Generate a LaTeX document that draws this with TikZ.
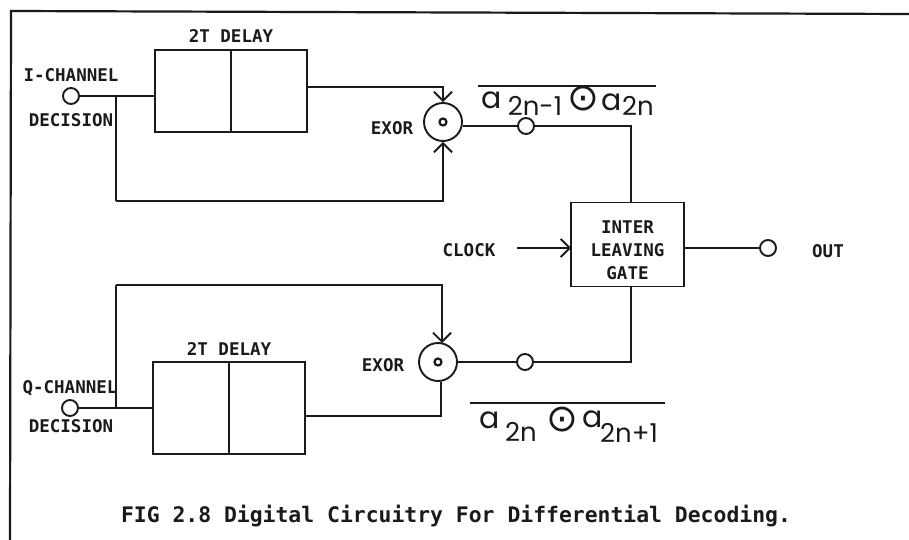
\documentclass[tikz,border=0pt]{standalone}
\usepackage{fontspec}
\setmainfont{DejaVu Sans Mono}
\newfontfamily\symfont{DejaVu Sans}
\newfontfamily\letterfont{Poppins}
\usepackage{tikz}
\usetikzlibrary{arrows.meta,positioning,calc}
\definecolor{ink}{HTML}{1A1A1A}
\tikzset{
  wire/.style={draw=ink,line width=1.9pt},
  arrow/.style={wire,-{Straight Barb[length=9pt,width=18pt,line width=1.9pt]}},
  delaybox/.style={draw=ink,line width=1.9pt,minimum width=152pt,minimum height=84pt,inner sep=0pt},
  gatebox/.style={draw=ink,line width=1.9pt,minimum width=113pt,minimum height=84pt,inner sep=0pt},
  gatetext/.style={align=center,inner sep=0pt,font=\fontsize{17.5}{23}\selectfont\bfseries,text=ink},
  terminal/.style={circle,draw=ink,line width=1.9pt,fill=white,minimum size=16pt,inner sep=0pt},
  exor/.style={circle,draw=ink,line width=1.9pt,minimum size=38pt,inner sep=0pt},
  exordot/.style={circle,draw=ink,line width=2.2pt,minimum size=7pt,inner sep=0pt},
  labelstyle/.style={font=\fontsize{17.5}{20}\selectfont\bfseries,text=ink,inner sep=0pt},
  caption/.style={font=\fontsize{21.4}{24}\selectfont\bfseries,text=ink,inner sep=0pt},
  bigletter/.style={font=\fontsize{30}{30}\selectfont\letterfont,text=ink,inner sep=0pt},
  subscript/.style={font=\fontsize{26}{26}\selectfont\letterfont,text=ink,inner sep=0pt},
  xnor/.style={font=\fontsize{38}{38}\selectfont\symfont,text=ink,inner sep=0pt}
}
\begin{document}
\begin{tikzpicture}[x=1pt,y=-1pt]
  \useasboundingbox (0,0) rectangle (909,540);
  \coordinate (frameA) at (10,540);
  \coordinate (frameB) at (11,11);
  \coordinate (frameC) at (909,14);
  \draw[wire,line width=2.2pt] (frameA) -- (frameB) -- (frameC);

  % upper channel
  \node[delaybox,minimum height=82pt] (delayI) at (231,91) {};
  \node[labelstyle] (delayIlabel) at (231,36) {2T DELAY};
  \node[terminal] (inI) at (71,96) {};
  \node[labelstyle] (chanI) at (71,75) {I-CHANNEL};
  \node[labelstyle] (decI) at (71,120) {DECISION};
  \node[exor] (exorI) at (443,122) {};
  \node[exordot] (dotI) at (exorI) {};
  \node[labelstyle] (exorIlabel) at (392,128) {EXOR};
  \node[terminal] (tapI) at (526,126) {};
  \coordinate (splitI) at (116,96);
  \coordinate (backI) at (116,201);
  \coordinate (outI) at (307,87);
  \coordinate (barIa) at (478,86);
  \coordinate (barIb) at (656,86);

  % gate
  \node[gatebox] (gate) at (627.5,244.5) {};
  \node[gatetext] (gatelabel) at (627.5,250) {INTER\\LEAVING\\GATE};
  \node[labelstyle] (clock) at (469,250) {CLOCK};
  \node[terminal] (out) at (768,248) {};
  \node[labelstyle] (outlabel) at (828,251) {OUT};
  \coordinate (gateN) at (631,203);
  \coordinate (gateS) at (631,286);
  \coordinate (clockA) at (517,248);
  \coordinate (clockB) at (571,248);

  % lower channel
  \node[delaybox,minimum height=92pt] (delayQ) at (229,408) {};
  \node[labelstyle] (delayQlabel) at (229,349) {2T DELAY};
  \node[terminal] (inQ) at (70,408) {};
  \node[labelstyle] (chanQ) at (70,388) {Q-CHANNEL};
  \node[labelstyle] (decQ) at (71,426) {DECISION};
  \node[exor] (exorQ) at (438,362) {};
  \node[exordot] (dotQ) at (exorQ) {};
  \node[labelstyle] (exorQlabel) at (383,365) {EXOR};
  \node[terminal] (tapQ) at (525,362) {};
  \coordinate (splitQ) at (116,408);
  \coordinate (backQ) at (116,285);
  \coordinate (outQ) at (305,416);
  \coordinate (inExorQa) at (442,343);
  \coordinate (inExorQb) at (441,382);
  \coordinate (barQa) at (470,403);
  \coordinate (barQb) at (665,403);

  \draw[wire] (inI) -- (inI -| delayI.west);
  \draw[wire] (delayI.north) -- (delayI.south);
  \draw[wire] (splitI) -- (backI);
  \draw[arrow] (backI) -| (exorI.south);
  \draw[arrow] (outI) -| (exorI.north);
  \draw[wire] (exorI.east |- tapI) -- (tapI);
  \draw[wire] (tapI) -| (gateN);
  \draw[wire] (inQ) -- (inQ -| delayQ.west);
  \draw[wire] (delayQ.north) -- (delayQ.south);
  \draw[wire] (splitQ) -- (backQ);
  \draw[arrow] (backQ) -| (inExorQa);
  \draw[wire] (outQ) -| (inExorQb);
  \draw[wire] (exorQ.east) -- (tapQ);
  \draw[wire] (tapQ) -| (gateS);
  \draw[arrow] (clockA) -- (clockB);
  \draw[wire] (gate.east |- out) -- (out);
  \draw[wire] (barIa) -- (barIb);
  \draw[wire] (barQa) -- (barQb);

  % bar expressions
  \node[bigletter] (aI) at (492,100) {a};
  \node[subscript] (subI) at (535,106) {2n-1};
  \node[xnor] (xnorI) at (583,99) {⊙};
  \node[bigletter] (aIb) at (612,102) {a};
  \node[subscript] (subIb) at (638,106) {2n};
  \node[bigletter] (aQ) at (490,420) {a};
  \node[subscript] (subQ) at (521,432) {2n};
  \node[xnor] (xnorQ) at (562,420) {⊙};
  \node[bigletter] (aQb) at (593,419) {a};
  \node[subscript] (subQb) at (629,433) {2n+1};

  \node[caption] (figcap) at (456,516) {FIG 2.8 Digital Circuitry For Differential Decoding.};
\end{tikzpicture}
\end{document}
